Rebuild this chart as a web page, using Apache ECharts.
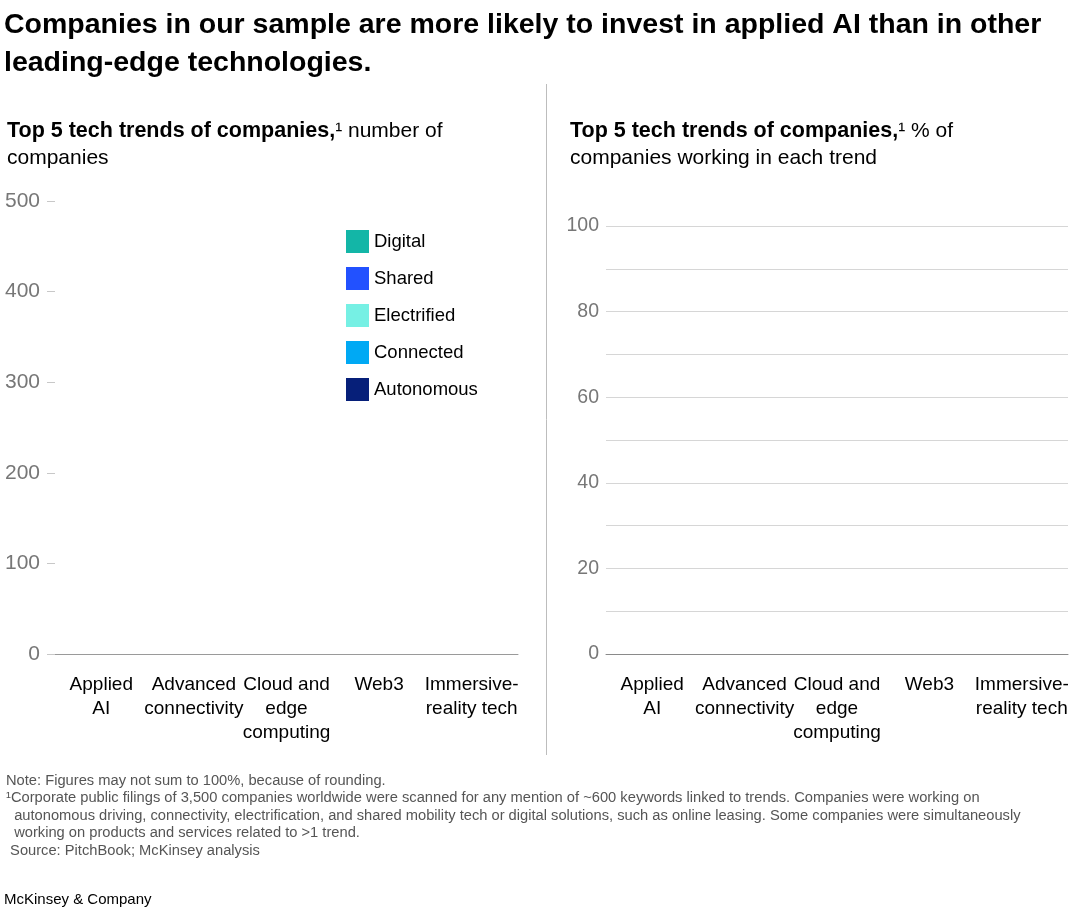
<!DOCTYPE html>
<html>
<head>
<meta charset="utf-8">
<script src="https://cdn.jsdelivr.net/npm/echarts@6/dist/echarts.min.js"></script>
<style>
html,body{margin:0;padding:0;background:#fff;}
#c{width:1080px;height:916px;}
</style>
</head>
<body>
<div id="c"></div>
<script>
// ---- data ----
const categories = ['Applied\nAI', 'Advanced\nconnectivity', 'Cloud and\nedge\ncomputing', 'Web3', 'Immersive-\nreality tech'];
const seriesNames = ['Digital', 'Shared', 'Electrified', 'Connected', 'Autonomous'];
// No bars are drawn in the reference picture: the series carry no values.
const digitalCount = [];
const sharedCount = [];
const electrifiedCount = [];
const connectedCount = [];
const autonomousCount = [];
const digitalPct = [];
const sharedPct = [];
const electrifiedPct = [];
const connectedPct = [];
const autonomousPct = [];
const countTicks = { min: 0, max: 500, interval: 100 };
const pctTicks = { min: 0, max: 100, interval: 10, labelEvery: 20 };

const colors = ['#13b6a7', '#2251ff', '#76f0e4', '#00a9f4', '#061f79'];
const FONT = 'Liberation Sans';

const chart = echarts.init(document.getElementById('c'), null, { renderer: 'canvas' });

const countData = [digitalCount, sharedCount, electrifiedCount, connectedCount, autonomousCount];
const pctData = [digitalPct, sharedPct, electrifiedPct, connectedPct, autonomousPct];

const series = [];
seriesNames.forEach((n, i) => {
  series.push({ name: n, type: 'bar', stack: 'count', xAxisIndex: 0, yAxisIndex: 0, data: countData[i], itemStyle: { color: colors[i] }, barWidth: '60%' });
});
seriesNames.forEach((n, i) => {
  series.push({ name: n, type: 'bar', stack: 'pct', xAxisIndex: 1, yAxisIndex: 1, data: pctData[i], itemStyle: { color: colors[i] }, barWidth: '60%' });
});

const catLabel = { color: '#000', fontSize: 19, lineHeight: 24, fontFamily: FONT, margin: 19, interval: 0 };
const subRich = {
  b: { fontSize: 21.5, fontWeight: 'bold', color: '#000', lineHeight: 27, fontFamily: FONT },
  r: { fontSize: 21, fontWeight: 'normal', color: '#000', lineHeight: 27, fontFamily: FONT }
};

chart.setOption({
  animation: false,
  color: colors,
  textStyle: { fontFamily: FONT },
  title: [
    { text: 'Companies in our sample are more likely to invest in applied AI than in other\nleading-edge technologies.', left: -1, top: 1,
      textStyle: { fontSize: 28.5, fontWeight: 'bold', color: '#000', lineHeight: 38, fontFamily: FONT } },
    { text: '{b|Top 5 tech trends of companies,}{r|¹ number of}\n{r|companies}', left: 2, top: 113,
      textStyle: { fontWeight: 'normal', rich: subRich } },
    { text: '{b|Top 5 tech trends of companies,}{r|¹ % of}\n{r|companies working in each trend}', left: 565, top: 113,
      textStyle: { fontWeight: 'normal', rich: subRich } },
    { text: 'Note: Figures may not sum to 100%, because of rounding.\n¹Corporate public filings of 3,500 companies worldwide were scanned for any mention of ~600 keywords linked to trends. Companies were working on\n  autonomous driving, connectivity, electrification, and shared mobility tech or digital solutions, such as online leasing. Some companies were simultaneously\n  working on products and services related to >1 trend.\n Source: PitchBook; McKinsey analysis',
      left: 1, top: 767, textStyle: { fontSize: 14.7, color: '#555', lineHeight: 17.5, fontWeight: 'normal', fontFamily: FONT } },
    { text: 'McKinsey & Company', left: -1, top: 887, textStyle: { fontSize: 15, color: '#000', fontWeight: 'normal', fontFamily: FONT } }
  ],
  legend: {
    data: seriesNames, orient: 'vertical', left: 341, top: 225, icon: 'rect', itemWidth: 23, itemHeight: 23, itemGap: 14,
    textStyle: { fontSize: 18.5, color: '#000', fontFamily: FONT }, selectedMode: false
  },
  graphic: [
    { type: 'line', shape: { x1: 546.5, y1: 84, x2: 546.5, y2: 755 }, style: { stroke: '#bdbdbd', lineWidth: 1 } }
  ],
  grid: [
    { left: 55, right: 562, top: 201, bottom: 262 },
    { left: 606, right: 12, top: 226, bottom: 262 }
  ],
  xAxis: [
    { type: 'category', gridIndex: 0, data: categories, axisLine: { lineStyle: { color: '#9a9a9a' } }, axisTick: { show: false }, axisLabel: catLabel },
    { type: 'category', gridIndex: 1, data: categories, axisLine: { lineStyle: { color: '#8a8a8a' } }, axisTick: { show: false }, axisLabel: catLabel }
  ],
  yAxis: [
    { type: 'value', gridIndex: 0, min: countTicks.min, max: countTicks.max, interval: countTicks.interval,
      axisLine: { show: false }, axisTick: { show: true, length: 8, lineStyle: { color: '#c8c8c8' } }, splitLine: { show: false },
      axisLabel: { color: '#777', fontSize: 21, margin: 15, fontFamily: FONT } },
    { type: 'value', gridIndex: 1, min: pctTicks.min, max: pctTicks.max, interval: pctTicks.interval,
      axisLine: { show: false }, axisTick: { show: false }, splitLine: { lineStyle: { color: '#d6d6d6' } },
      axisLabel: { color: '#777', fontSize: 19.5, margin: 7, fontFamily: FONT, formatter: v => (v % pctTicks.labelEvery === 0 ? String(v) : '') } }
  ],
  series: series
});
</script>
</body>
</html>
